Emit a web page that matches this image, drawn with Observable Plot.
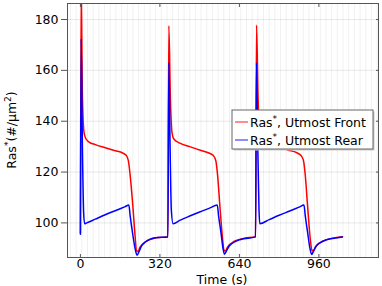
<!DOCTYPE html>
<html><head><meta charset="utf-8">
<script src="https://cdn.jsdelivr.net/npm/d3@7"></script>
<script src="https://cdn.jsdelivr.net/npm/@observablehq/plot@0.6"></script>
<style>body{margin:0;background:#fff;font-family:"DejaVu Sans",sans-serif}</style>
</head><body><div id="c"></div>
<script>
const frontT = [0,3,8,14,20,35,60,100,140,170,185,193,200,210,220,226,232,240,260,290,320,352,
  356,362,368,376,400,440,480,520,535,545,552,562,572,578,584,592,620,660,705,
  709,715,721,729,755,795,835,875,888,898,905,915,925,932,938,946,975,1015,1055];
const frontV = [96,195,150,136,133.5,131.8,130.8,129.6,128.4,127.5,126.5,124.5,119,108,95,89,88.8,90.5,92.5,93.8,94.3,94.6,
  177.5,150,136,133,131.4,130,128.7,127.4,126.5,124.5,119,106,94,89.3,89,90.5,92.8,94,94.6,
  177.8,150,136,133,131.4,130,128.7,127.4,126.5,124.5,119,106,94,89.3,89,90.5,92.8,94,94.6];
const rearT = [0,3,8,13,17,25,60,100,140,180,195,200,210,220,228,235,245,262,302,352,
  356,361,366,373,400,440,480,520,551,556,566,574,580,587,600,645,705,
  709,714,719,722,760,800,840,880,900,905,915,924,931,938,950,981,1020,1055];
const rearV = [95.5,172.4,130,104,99.7,100,101.5,103.2,104.8,106.4,107,103,96,90,87.3,88.5,90.8,92.5,94.2,94.5,
  163,130,105,99.7,101,102.7,104.3,105.8,107,103,96,90,87.7,88.8,91,93.5,94.5,
  163,130,105,99.7,101.3,103,104.6,106.2,107,103,96,90,87.6,88.8,91,93,94,94.5];
const xTicks = [0,320,640,960];
const yTicks = [100,120,140,160,180];
const seriesNames = ["Utmost Front","Utmost Rear"];
const seriesColors = ["#ff0000","#0000ff"];

const front = frontT.map((t,i)=>({t, v: frontV[i]}));
const rear = rearT.map((t,i)=>({t, v: rearV[i]}));
const minorX = d3.range(-40, 1200, 320/14).map(d => Math.round(d*100)/100);

const plot = Plot.plot({
  width: 382, height: 286,
  marginLeft: 67, marginRight: 4, marginTop: 3, marginBottom: 29,
  style: {fontFamily: "DejaVu Sans, sans-serif", fontSize: "12.5px", color: "#000"},
  x: {domain: [-52, 1200]},
  y: {domain: [86.4, 186.3]},
  marks: [
    Plot.gridX(minorX, {stroke: "#000", strokeOpacity: 0.06}),
    Plot.gridY(yTicks, {stroke: "#000", strokeOpacity: 0.09}),
    Plot.line(front, {x: "t", y: "v", stroke: seriesColors[0], strokeWidth: 1.5, clip: true, curve: "monotone-x"}),
    Plot.line(rear, {x: "t", y: "v", stroke: seriesColors[1], strokeWidth: 1.5, clip: true, curve: "monotone-x"}),
    Plot.frame({stroke: "#555"}),
    Plot.axisY(yTicks, {tickSize: 6, tickPadding: 3, label: null, stroke: "#555", fontSize: 12.5}),
    Plot.axisY(yTicks, {anchor: "right", tickSize: -3, text: null, label: null, stroke: "#555"}),
    Plot.axisX(xTicks, {tickSize: -3, tickPadding: 5, label: null, stroke: "#555", fontSize: 12.5}),
    Plot.axisX(xTicks, {anchor: "top", tickSize: -3, text: null, label: null, stroke: "#555"})
  ]
});
document.getElementById("c").appendChild(plot);

const svg = d3.select(plot);
// axis titles
svg.append("text").attr("x", 222).attr("y", 284).attr("text-anchor", "middle")
  .style("font-size", "12.5px").text("Time (s)");
const yl = svg.append("text").attr("transform", "translate(16,130) rotate(-90)")
  .attr("text-anchor", "middle").style("font-size", "12.5px");
yl.append("tspan").text("Ras");
yl.append("tspan").attr("dy", -5).style("font-size", "9px").text("*");
yl.append("tspan").attr("dy", 5).text("(#/µm");
yl.append("tspan").attr("dy", -5).style("font-size", "9px").text("2");
yl.append("tspan").attr("dy", 5).text(")");

// legend
const lg = svg.append("g").attr("transform", "translate(232,110)");
lg.append("rect").attr("x", 1.5).attr("y", 1.5).attr("width", 141).attr("height", 39).attr("fill", "#ccc");
lg.append("rect").attr("x", 0).attr("y", 0).attr("width", 141).attr("height", 39).attr("fill", "#fff").attr("stroke", "#666");
seriesNames.forEach((name, i) => {
  const y = 12 + i * 18;
  lg.append("line").attr("x1", 3).attr("x2", 16).attr("y1", y).attr("y2", y)
    .attr("stroke", seriesColors[i]).attr("stroke-width", 1.5).attr("stroke-opacity", 0.6);
  const t = lg.append("text").attr("x", 18).attr("y", y + 5).attr("text-anchor", "start").style("font-size", "12.5px");
  t.append("tspan").text("Ras");
  t.append("tspan").attr("dy", -5).style("font-size", "9px").text("*");
  t.append("tspan").attr("dy", 5).text(", " + name);
});
</script></body></html>
